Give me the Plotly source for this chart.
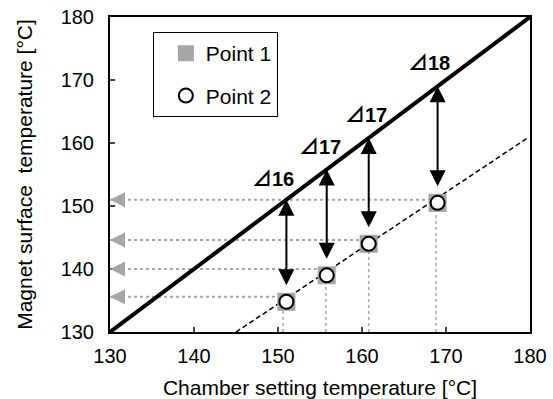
import plotly.graph_objects as go

# ---- data ----
chamber = [151.0, 155.8, 160.8, 169.0]          # chamber setting temperature
point1 = [134.8, 139.0, 144.0, 150.5]           # magnet surface temp (Point 1)
point2 = [134.8, 139.0, 144.0, 150.5]           # magnet surface temp (Point 2)
readout_y = [135.6, 140.0, 144.6, 151.0]        # gray read-out levels on the y axis
readout_x = [150.6, 155.7, 160.8, 168.8]        # gray read-out positions on the x axis
delta_values = ["16", "17", "17", "18"]
label_x = [149.4, 155.0, 160.5, 168.0]
label_y = [154.6, 159.6, 164.7, 172.9]
ideal_x = [130, 180]
ideal_y = [130, 180]
fit_x = [145.0, 179.6]
fit_y = [130.0, 160.7]
x_ticks = [130, 140, 150, 160, 170, 180]
y_ticks = [130, 140, 150, 160, 170, 180]

FONT = "Arial, Liberation Sans, sans-serif"
GRAY = "#a6a6a6"

fig = go.Figure()

# gray dotted read-out lines
for xi, yi in zip(readout_x, readout_y):
    fig.add_trace(go.Scatter(x=[130, xi], y=[yi, yi], mode="lines",
                             line=dict(color=GRAY, width=2, dash="dot"),
                             showlegend=False, hoverinfo="skip"))
for xi, yi in zip(readout_x, point1):
    fig.add_trace(go.Scatter(x=[xi, xi], y=[130, yi], mode="lines",
                             line=dict(color=GRAY, width=1.5, dash="dot"),
                             showlegend=False, hoverinfo="skip"))

# ideal y = x line
fig.add_trace(go.Scatter(x=ideal_x, y=ideal_y, mode="lines",
                         line=dict(color="black", width=4),
                         showlegend=False, hoverinfo="skip"))
# dashed fit line
fig.add_trace(go.Scatter(x=fit_x, y=fit_y, mode="lines",
                         line=dict(color="black", width=1.5, dash="5px,3px"),
                         showlegend=False, hoverinfo="skip"))

# points
fig.add_trace(go.Scatter(x=chamber, y=point1, mode="markers", name="Point 1",
                         legendgroup="p1",
                         marker=dict(symbol="square", size=18, color=GRAY,
                                     line=dict(width=0))))
fig.add_trace(go.Scatter(x=chamber, y=point2, mode="markers", name="Point 2",
                         legendgroup="p2",
                         marker=dict(symbol="circle", size=14, color="white",
                                     line=dict(color="black", width=2))))

annotations = []
# gray arrowheads at the y axis
for yi in readout_y:
    annotations.append(dict(x=130, y=yi, xref="x", yref="y", ax=16, ay=0,
                            showarrow=True, arrowhead=2, arrowsize=1.5,
                            arrowwidth=2, arrowcolor=GRAY, text=""))
# black double arrows
for xi, yi in zip(chamber, point1):
    annotations.append(dict(x=xi, y=xi, xref="x", yref="y",
                            ax=xi, ay=yi, axref="x", ayref="y",
                            showarrow=True, arrowhead=2, startarrowhead=2,
                            arrowside="end+start", arrowsize=1.6,
                            startarrowsize=1.6, arrowwidth=2,
                            arrowcolor="black", standoff=0, startstandoff=15,
                            text=""))
# delta labels
for t, xi, yi in zip(delta_values, label_x, label_y):
    annotations.append(dict(x=xi, y=yi, xref="x", yref="y",
                            text="<b><span style='font-family:Noto Sans CJK JP'>⊿</span>" + t + "</b>",
                            showarrow=False,
                            font=dict(family=FONT, size=20, color="black")))

fig.update_layout(
    width=553, height=399,
    margin=dict(l=110, r=23, t=17, b=67),
    paper_bgcolor="white", plot_bgcolor="white",
    font=dict(family=FONT, size=20, color="black"),
    showlegend=True,
    legend=dict(x=0.102, y=0.952, xanchor="left", yanchor="top",
                bordercolor="black", borderwidth=1, bgcolor="white",
                font=dict(family=FONT, size=21), traceorder="grouped",
                tracegroupgap=12, indentation=12, entrywidth=102),
    annotations=annotations,
)
fig.update_xaxes(range=[130, 180], tickvals=x_ticks, ticks="inside", ticklen=5,
                 tickwidth=2, showline=True, linecolor="black", linewidth=2,
                 mirror=True, showgrid=False, zeroline=False, automargin=False,
                 tickfont=dict(size=20), ticklabelstandoff=5,
                 title=dict(text="Chamber setting temperature [°C]",
                            font=dict(size=21), standoff=15))
fig.update_yaxes(range=[130, 180], tickvals=y_ticks, ticks="inside", ticklen=5,
                 tickwidth=2, showline=True, linecolor="black", linewidth=2,
                 mirror=True, showgrid=False, zeroline=False, automargin=False,
                 tickfont=dict(size=20), ticklabelstandoff=10,
                 title=dict(text="Magnet surface\u00a0 temperature [°C]",
                            font=dict(size=21), standoff=22))

fig.write_html("out.html")
